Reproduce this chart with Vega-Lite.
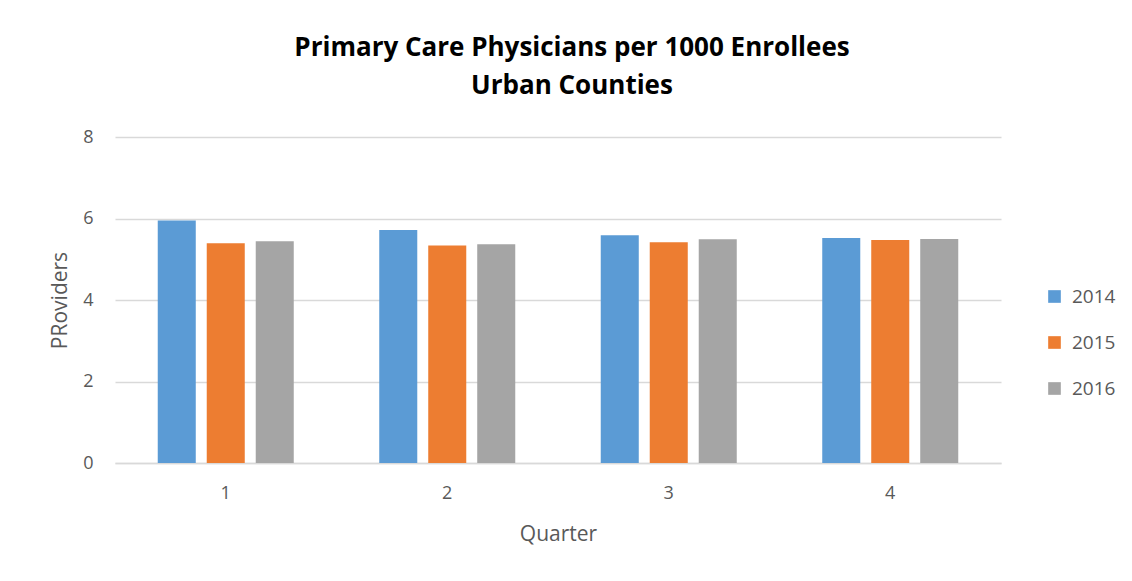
{
  "$schema": "https://vega.github.io/schema/vega-lite/v6.json",
  "width": 886,
  "height": 326,
  "autosize": "none",
  "padding": {"left": 115, "top": 137, "right": 131, "bottom": 118},
  "background": "white",
  "title": {
    "text": ["Primary Care Physicians per 1000 Enrollees", "Urban Counties"],
    "font": "Open Sans",
    "fontWeight": "bold",
    "fontSize": 26,
    "color": "#000000",
    "anchor": "middle",
    "lineHeight": 38,
    "offset": 29,
    "dx": 14
  },
  "data": {
    "values": [
      {"Quarter": "1", "Year": "2014", "Providers": 5.95},
      {"Quarter": "1", "Year": "2015", "Providers": 5.39},
      {"Quarter": "1", "Year": "2016", "Providers": 5.44},
      {"Quarter": "2", "Year": "2014", "Providers": 5.72},
      {"Quarter": "2", "Year": "2015", "Providers": 5.34},
      {"Quarter": "2", "Year": "2016", "Providers": 5.37},
      {"Quarter": "3", "Year": "2014", "Providers": 5.59},
      {"Quarter": "3", "Year": "2015", "Providers": 5.42},
      {"Quarter": "3", "Year": "2016", "Providers": 5.49},
      {"Quarter": "4", "Year": "2014", "Providers": 5.52},
      {"Quarter": "4", "Year": "2015", "Providers": 5.47},
      {"Quarter": "4", "Year": "2016", "Providers": 5.50}
    ]
  },
  "mark": {"type": "bar"},
  "encoding": {
    "x": {
      "field": "Quarter",
      "type": "nominal",
      "scale": {"paddingInner": 0.386, "paddingOuter": 0.193},
      "axis": {
        "labelAngle": 0,
        "title": "Quarter",
        "ticks": false,
        "domainColor": "#d9d9d9",
        "domainWidth": 1.5,
        "labelPadding": 21,
        "titlePadding": 21
      }
    },
    "xOffset": {
      "field": "Year",
      "type": "nominal",
      "scale": {"paddingInner": 0.224, "paddingOuter": 0}
    },
    "y": {
      "field": "Providers",
      "type": "quantitative",
      "scale": {"domain": [0, 8]},
      "axis": {
        "values": [0, 2, 4, 6, 8],
        "title": "PRoviders",
        "ticks": false,
        "domain": false,
        "gridColor": "#d9d9d9",
        "gridWidth": 1.5,
        "labelPadding": 22,
        "titlePadding": 12
      }
    },
    "color": {
      "field": "Year",
      "type": "nominal",
      "scale": {"range": ["#5b9bd5", "#ed7d31", "#a5a5a5"]},
      "legend": {
        "title": null,
        "orient": "none",
        "legendX": 930,
        "legendY": 150,
        "symbolType": "square",
        "symbolSize": 160,
        "symbolStrokeWidth": 0,
        "rowPadding": 26,
        "labelFontSize": 19,
        "labelFont": "Open Sans",
        "labelColor": "#595959",
        "labelOffset": 8
      }
    }
  },
  "config": {
    "view": {"stroke": null},
    "axis": {
      "labelFont": "Open Sans",
      "labelFontSize": 18,
      "labelColor": "#595959",
      "titleFont": "Open Sans",
      "titleFontSize": 21,
      "titleFontWeight": "normal",
      "titleColor": "#595959"
    }
  }
}
